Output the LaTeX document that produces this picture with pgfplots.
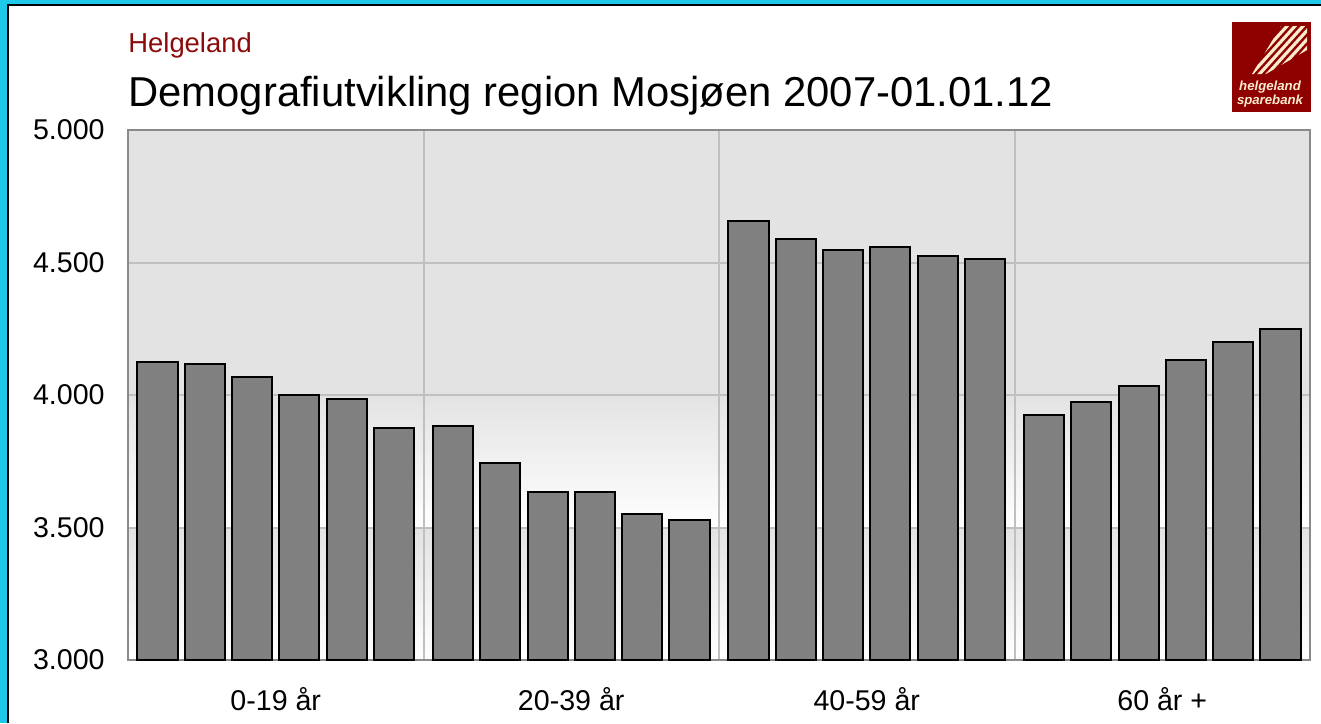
\documentclass[border=0pt]{standalone}
\usepackage{fontspec}
\setmainfont{Liberation Sans}
\usepackage{pgfplots}
\usepackage{pgfplotstable}
\pgfplotsset{compat=1.18}

\definecolor{frameCyan}{RGB}{30,200,232}
\definecolor{bgGray}{RGB}{227,227,227}
\definecolor{gridGray}{RGB}{192,192,192}
\definecolor{barGray}{RGB}{128,128,128}
\definecolor{frameGray}{RGB}{138,138,138}
\definecolor{bankRed}{RGB}{140,10,10}
\definecolor{logoRed}{RGB}{143,0,0}
\definecolor{cream}{RGB}{250,235,205}

% population per age group, one bar per year 2007..2012
% x = slot inside the group (6.25 units per group)
\pgfplotstableread{
x       y
0.625   4124
1.625   4117
2.625   4067
3.625   4000
4.625   3984
5.625   3875
6.875   3883
7.875   3743
8.875   3634
9.875   3634
10.875  3551
11.875  3528
13.125  4657
14.125  4589
15.125  4547
16.125  4558
17.125  4524
18.125  4513
19.375  3924
20.375  3973
21.375  4034
22.375  4132
23.375  4200
24.375  4249
}\mosjoen

\begin{document}
\begin{tikzpicture}
\begin{scope}[x=0.5pt,y=-0.5pt]
\useasboundingbox (0,0) rectangle (1321,723);
\fill[frameCyan] (0,0) rectangle (1321,4);
\fill[frameCyan] (0,0) rectangle (7,723);
\draw[black, line width=1pt] (8,723) -- (8,4.5) -- (1321,4.5);
% logo
\fill[logoRed] (1232,22) rectangle (1311,112);
\begin{scope}
\clip (1281,26) -- (1307,26) -- (1307,50) -- (1266,74) -- (1252,74) -- cycle;
\foreach \k in {0,...,10} \draw[cream, line width=1.6pt] (1230+8*\k,80) -- (1280+8*\k,25);
\end{scope}
\node[anchor=base, inner sep=0, text=cream, font=\fontsize{6.6}{6.6}\selectfont\bfseries\itshape] at (1270,90) {helgeland};
\node[anchor=base, inner sep=0, text=cream, font=\fontsize{6.6}{6.6}\selectfont\bfseries\itshape] at (1270,104) {sparebank};
% titles
\node[anchor=base west, inner sep=0, text=bankRed, font=\fontsize{13.7}{13.7}\selectfont] at (128,52) {Helgeland};
\node[anchor=base west, inner sep=0, font=\fontsize{20.9}{20.9}\selectfont] at (128,106) {Demografiutvikling region Mosjøen 2007-01.01.12};
\end{scope}

\begin{axis}[
  at={(64pt,-330pt)}, anchor=south west,
  width=591pt, height=265pt, scale only axis,
  set layers,
  xmin=0, xmax=25, ymin=3000, ymax=5000,
  ybar, bar width=0.85,
  xtick={3.125,9.375,15.625,21.875},
  xticklabels={0-19 år,20-39 år,40-59 år,60 år +},
  minor xtick={6.25,12.5,18.75},
  xminorgrids, ymajorgrids,
  ytick={3000,3500,4000,4500,5000},
  yticklabels={3.000,3.500,4.000,4.500,5.000},
  major tick length=0, minor tick length=0,
  grid style={gridGray, line width=1pt},
  minor grid style={gridGray, line width=1pt},
  axis line style={frameGray, line width=1.2pt},
  tick label style={font=\fontsize{14.3}{14.3}\selectfont},
  xticklabel style={anchor=base, yshift=-25pt, inner sep=0pt},
  yticklabel style={anchor=east, xshift=-11.5pt, inner sep=0pt},
]
\begin{pgfonlayer}{axis background}
\fill[bgGray] (axis cs:0,4000) rectangle (axis cs:25,5000);
\shade[top color=bgGray, bottom color=white] (axis cs:0,3500) rectangle (axis cs:25,4000);
\shade[top color=bgGray, bottom color=white] (axis cs:0,3000) rectangle (axis cs:25,3500);
\end{pgfonlayer}
\addplot[fill=barGray, draw=black, line width=1pt] table[x=x, y=y] {\mosjoen};
\end{axis}
\end{tikzpicture}
\end{document}
